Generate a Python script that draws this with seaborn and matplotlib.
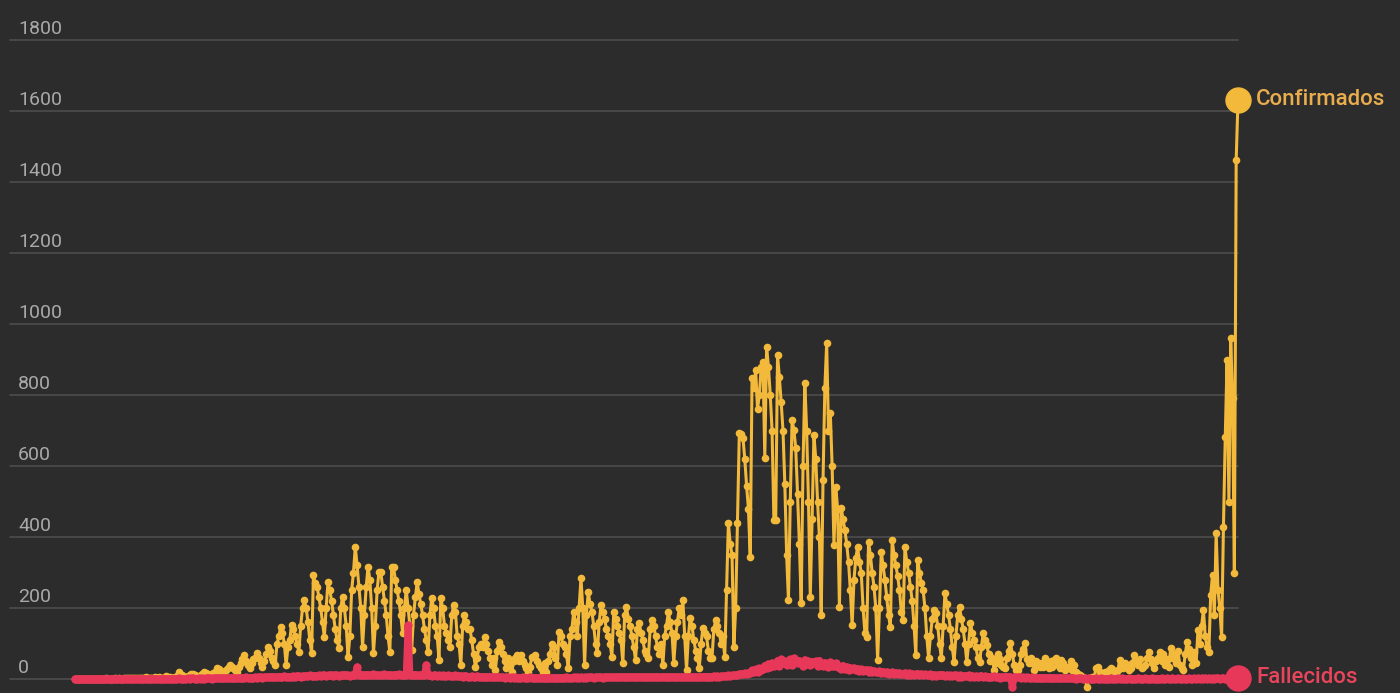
import numpy as np
import pandas as pd
import matplotlib
matplotlib.use("Agg")
import matplotlib.pyplot as plt
import seaborn as sns

########################################################################
# Datos (valores diarios agrupados por semana)
########################################################################
confirmados_semanas = [
    [0, 0, 0, 0, 0, 0, 0], [0, 1, 0, 0, 1, 0, 0], [1, 0, 1, 2, 1, 0, 1],
    [1, 2, 1, 2, 1, 1, 2], [2, 3, 2, 4, 3, 2, 3], [3, 2, 4, 3, 5, 3, 2],
    [4, 3, 5, 4, 6, 4, 3], [4, 8, 6, 5, 3, 2, 5], [8, 20, 12, 10, 6, 5, 8],
    [10, 15, 14, 12, 8, 6, 12], [15, 20, 18, 15, 12, 10, 18],
    [20, 30, 28, 22, 18, 15, 25], [30, 40, 35, 30, 25, 20, 35],
    [45, 55, 68, 50, 40, 30, 45], [55, 60, 73, 60, 45, 35, 50],
    [70, 90, 80, 60, 50, 40, 100], [120, 146, 130, 100, 39, 90, 110],
    [152, 140, 120, 100, 76, 150, 200], [222, 200, 160, 110, 73, 293, 270],
    [260, 230, 200, 160, 118, 200, 273], [250, 220, 180, 140, 110, 87, 200],
    [231, 200, 150, 62, 120, 250, 300], [372, 320, 260, 200, 90, 180, 260],
    [316, 280, 200, 73, 150, 250, 301], [301, 260, 220, 180, 120, 76, 316],
    [316, 280, 250, 220, 180, 130, 200], [251, 200, 150, 82, 180, 230, 273],
    [240, 210, 180, 140, 110, 76, 180], [228, 200, 150, 120, 54, 228, 200],
    [150, 130, 110, 90, 180, 208, 190], [120, 100, 39, 150, 180, 160, 140],
    [140, 110, 70, 34, 60, 90, 100], [90, 118, 100, 80, 60, 40, 60],
    [25, 80, 104, 90, 70, 50, 30], [60, 40, 20, 50, 60, 68, 50],
    [68, 50, 40, 30, 20, 35, 62], [62, 68, 50, 40, 30, 20, 45],
    [20, 50, 70, 100, 90, 60, 40], [132, 120, 100, 90, 70, 31, 120],
    [140, 189, 160, 120, 200, 284, 200], [39, 180, 245, 210, 190, 150, 100],
    [73, 160, 208, 190, 170, 140, 120], [100, 62, 189, 170, 150, 130, 110],
    [45, 180, 203, 170, 150, 120, 90], [54, 140, 158, 130, 110, 80, 70],
    [59, 140, 166, 150, 120, 90, 70], [100, 39, 120, 150, 189, 160, 130],
    [45, 120, 160, 200, 180, 222, 120], [25, 120, 172, 150, 110, 80, 60],
    [31, 100, 144, 130, 120, 80, 60], [59, 140, 166, 150, 130, 100, 120],
    [62, 250, 439, 380, 350, 90, 200], [440, 693, 690, 680, 620, 545, 480],
    [344, 848, 820, 870, 760, 800, 880], [893, 623, 935, 880, 800, 700, 448],
    [448, 913, 850, 780, 700, 550, 350], [222, 500, 730, 701, 650, 520, 380],
    [214, 600, 834, 700, 500, 231, 450], [687, 620, 500, 400, 180, 560, 820],
    [946, 700, 749, 600, 377, 541, 480], [203, 482, 450, 420, 380, 330, 250],
    [152, 280, 340, 372, 330, 300, 200], [130, 118, 386, 350, 300, 260, 200],
    [54, 200, 358, 320, 280, 230, 180], [146, 392, 350, 320, 290, 250, 190],
    [166, 372, 330, 300, 260, 220, 150], [68, 335, 300, 270, 250, 200, 120],
    [59, 120, 170, 194, 185, 150, 100], [59, 150, 242, 210, 180, 140, 90],
    [48, 120, 180, 203, 170, 140, 100], [48, 100, 158, 130, 110, 90, 60],
    [48, 90, 130, 110, 95, 70, 50], [60, 25, 45, 70, 55, 40, 35],
    [30, 60, 80, 101, 70, 40, 25], [25, 40, 70, 85, 101, 55, 45],
    [60, 45, 25, 50, 40, 35, 45], [35, 59, 40, 30, 50, 35, 54],
    [59, 40, 30, 54, 45, 25, 35], [30, 50, 25, 40, 20, 15, 11],
    [8, 5, 3, -23, 2, 0, 5], [5, 31, 34, 20, 15, 10, 20],
    [20, 25, 31, 28, 20, 15, 25], [54, 40, 30, 45, 35, 25, 30],
    [45, 68, 50, 40, 55, 30, 35], [40, 60, 76, 55, 45, 30, 50],
    [60, 76, 50, 70, 40, 55, 35], [87, 60, 70, 45, 80, 40, 30],
    [25, 70, 104, 85, 60, 40, 75], [45, 138, 100, 150, 194, 120, 90],
    [76, 237, 293, 180, 411, 250, 200], [118, 428, 682, 899, 499, 960, 792],
    [300, 1462, 1631],
]

fallecidos_semanas = [
    [0, 0, 0, 0, 0, 0, 0], [0, 0, 0, 0, 0, 0, 0], [0, 0, 0, 1, 0, 0, 0],
    [0, 0, 1, 0, 0, 1, 0], [1, 0, 0, 1, 0, 0, 1], [0, 1, 0, 0, 1, 0, 0],
    [1, 0, 1, 0, 0, 1, 0], [1, 1, 0, 1, 1, 0, 1], [1, 2, 1, 1, 0, 1, 2],
    [1, 2, 2, 1, 1, 2, 1], [2, 1, 2, 3, 2, 1, 2], [2, 3, 2, 3, 2, 2, 3],
    [3, 2, 4, 3, 3, 2, 3], [3, 4, 3, 5, 4, 3, 4], [4, 5, 4, 6, 5, 4, 5],
    [5, 6, 5, 7, 6, 5, 6], [6, 7, 6, 8, 7, 6, 7], [7, 8, 7, 9, 8, 7, 8],
    [8, 9, 8, 10, 9, 8, 9], [9, 10, 9, 11, 10, 9, 10], [10, 11, 9, 12, 10, 9, 11],
    [10, 12, 11, 10, 9, 11, 12], [11, 34, 10, 12, 11, 10, 12],
    [12, 11, 10, 13, 12, 11, 10], [11, 12, 13, 10, 11, 12, 10],
    [10, 12, 11, 13, 10, 11, 12], [11, 152, 12, 10, 11, 12, 10],
    [10, 11, 12, 10, 40, 11, 10], [9, 10, 11, 9, 10, 9, 10],
    [9, 8, 10, 9, 8, 9, 10], [8, 9, 8, 7, 9, 8, 7], [7, 8, 7, 6, 8, 7, 6],
    [6, 7, 6, 5, 7, 6, 5], [5, 6, 5, 6, 5, 4, 5], [5, 4, 5, 4, 5, 4, 4],
    [4, 5, 4, 3, 4, 5, 4], [3, 4, 3, 4, 3, 3, 4], [3, 4, 3, 3, 4, 3, 3],
    [3, 4, 4, 3, 5, 4, 3], [4, 5, 4, 5, 4, 5, 4], [5, 4, 5, 6, 5, 4, 5],
    [5, 6, 5, 4, 6, 5, 5], [5, 6, 5, 6, 5, 6, 5], [6, 5, 6, 5, 6, 5, 6],
    [5, 6, 5, 6, 5, 5, 6], [6, 5, 6, 5, 6, 6, 5], [5, 6, 5, 6, 5, 6, 5],
    [6, 5, 6, 5, 6, 5, 6], [5, 6, 6, 5, 6, 5, 6], [6, 7, 6, 7, 6, 7, 6],
    [7, 8, 7, 8, 7, 8, 8], [8, 9, 10, 9, 10, 11, 10],
    [12, 14, 13, 15, 16, 14, 17], [18, 24, 20, 27, 21, 30, 26],
    [28, 38, 30, 42, 33, 45, 36], [40, 52, 38, 55, 44, 50, 40],
    [42, 55, 40, 58, 47, 44, 52], [46, 38, 54, 42, 50, 40, 49],
    [44, 50, 38, 52, 45, 36, 46], [42, 34, 47, 38, 36, 44, 33],
    [35, 28, 38, 27, 34, 26, 32], [28, 31, 24, 29, 23, 27, 22],
    [24, 26, 20, 25, 19, 23, 20], [20, 22, 17, 21, 16, 20, 15],
    [18, 19, 14, 18, 13, 17, 14], [15, 17, 12, 16, 11, 15, 12],
    [14, 15, 11, 14, 10, 13, 10], [12, 13, 9, 12, 9, 12, 10],
    [11, 12, 8, 11, 8, 10, 9], [10, 11, 7, 10, 7, 9, 8],
    [9, 10, 6, 9, 6, 8, 7], [8, 9, 6, 8, 5, 7, 6], [7, 8, 5, 7, 4, 6, 5],
    [6, 7, 5, 6, -23, 5, 5], [5, 6, 4, 5, 4, 5, 4], [4, 5, 4, 3, 4, 3, 4],
    [3, 4, 3, 4, 3, 2, 3], [3, 2, 3, 2, 3, 2, 2], [2, 3, 2, 2, 1, 2, 2],
    [2, 1, 2, 1, 2, 1, 1], [1, 2, 1, 1, 2, 1, 1], [1, 1, 2, 1, 1, 1, 2],
    [1, 2, 1, 1, 1, 2, 1], [1, 1, 1, 2, 1, 1, 1], [2, 1, 1, 1, 2, 1, 1],
    [1, 1, 2, 1, 1, 2, 1], [1, 2, 1, 1, 2, 1, 1], [2, 1, 1, 2, 1, 1, 2],
    [1, 2, 1, 2, 1, 2, 1], [2, 1, 2, 1, 2, 2, 1], [2, 2, 1, 2, 3, 2, 2],
    [3, 2, 3],
]

ticks_y = [0, 200, 400, 600, 800, 1000, 1200, 1400, 1600, 1800]
nombres = ["Confirmados", "Fallecidos"]

########################################################################
# Estilo
########################################################################
FONDO = "#2c2c2c"
GRILLA = "#4b4b4b"
TEXTO = "#a9a9a9"
AMARILLO = "#f2b93b"
ROJO = "#e8385a"
ETIQ_AMARILLO = "#e9ad4e"
ETIQ_ROJO = "#e8455c"

sns.set_style("dark")
plt.rcParams["font.family"] = ["Roboto", "DejaVu Sans"]

confirmados = [v for semana in confirmados_semanas for v in semana]
fallecidos = [v for semana in fallecidos_semanas for v in semana]
dias = np.arange(len(confirmados))

df = pd.DataFrame({"dia": dias, "Confirmados": confirmados, "Fallecidos": fallecidos})

W, H = 1400, 693
fig = plt.figure(figsize=(W / 100, H / 100), dpi=100, facecolor=FONDO)
ax = fig.add_axes([0, 0, 1, 1])
ax.set_facecolor(FONDO)

# escala en pixeles: primer dato en x=75, ultimo en x=1238, cero en y=679
paso = (1238 - 75) / (len(dias) - 1)
ax.set_xlim(-75 / paso, (W - 75) / paso)
ax.set_ylim(-(H - 679) / 0.355, 679 / 0.355)

for t in ticks_y:
    ax.axhline(t, xmin=10 / W, xmax=1238 / W, color=GRILLA, lw=1.3, zorder=0)
    ax.annotate(f"{t}", xy=(18 / W, t), xycoords=("axes fraction", "data"),
                xytext=(0, 4), textcoords="offset points",
                ha="left", va="baseline", fontsize=14, color=TEXTO)

sns.lineplot(data=df, x="dia", y="Confirmados", color=AMARILLO, lw=2.2,
             marker="o", markersize=5.5, markeredgewidth=0, ax=ax, zorder=3)
sns.lineplot(data=df, x="dia", y="Fallecidos", color=ROJO, lw=5,
             marker="o", markersize=6, markeredgewidth=0, ax=ax, zorder=4)

# puntos finales y etiquetas
for nombre, serie, col, col_txt in [(nombres[0], confirmados, AMARILLO, ETIQ_AMARILLO),
                                    (nombres[1], fallecidos, ROJO, ETIQ_ROJO)]:
    ax.plot(dias[-1], serie[-1], "o", ms=18, color=col, mec=col, zorder=6)
    ax.annotate(nombre, xy=(dias[-1], serie[-1]), xytext=(13, 0),
                textcoords="offset points", ha="left", va="center",
                fontsize=16, fontweight="medium", color=col_txt, zorder=7)

ax.set_xlabel("")
ax.set_ylabel("")
ax.set_xticks([])
ax.set_yticks([])
for s in ax.spines.values():
    s.set_visible(False)

fig.savefig("out.png", dpi=100, facecolor=FONDO)
